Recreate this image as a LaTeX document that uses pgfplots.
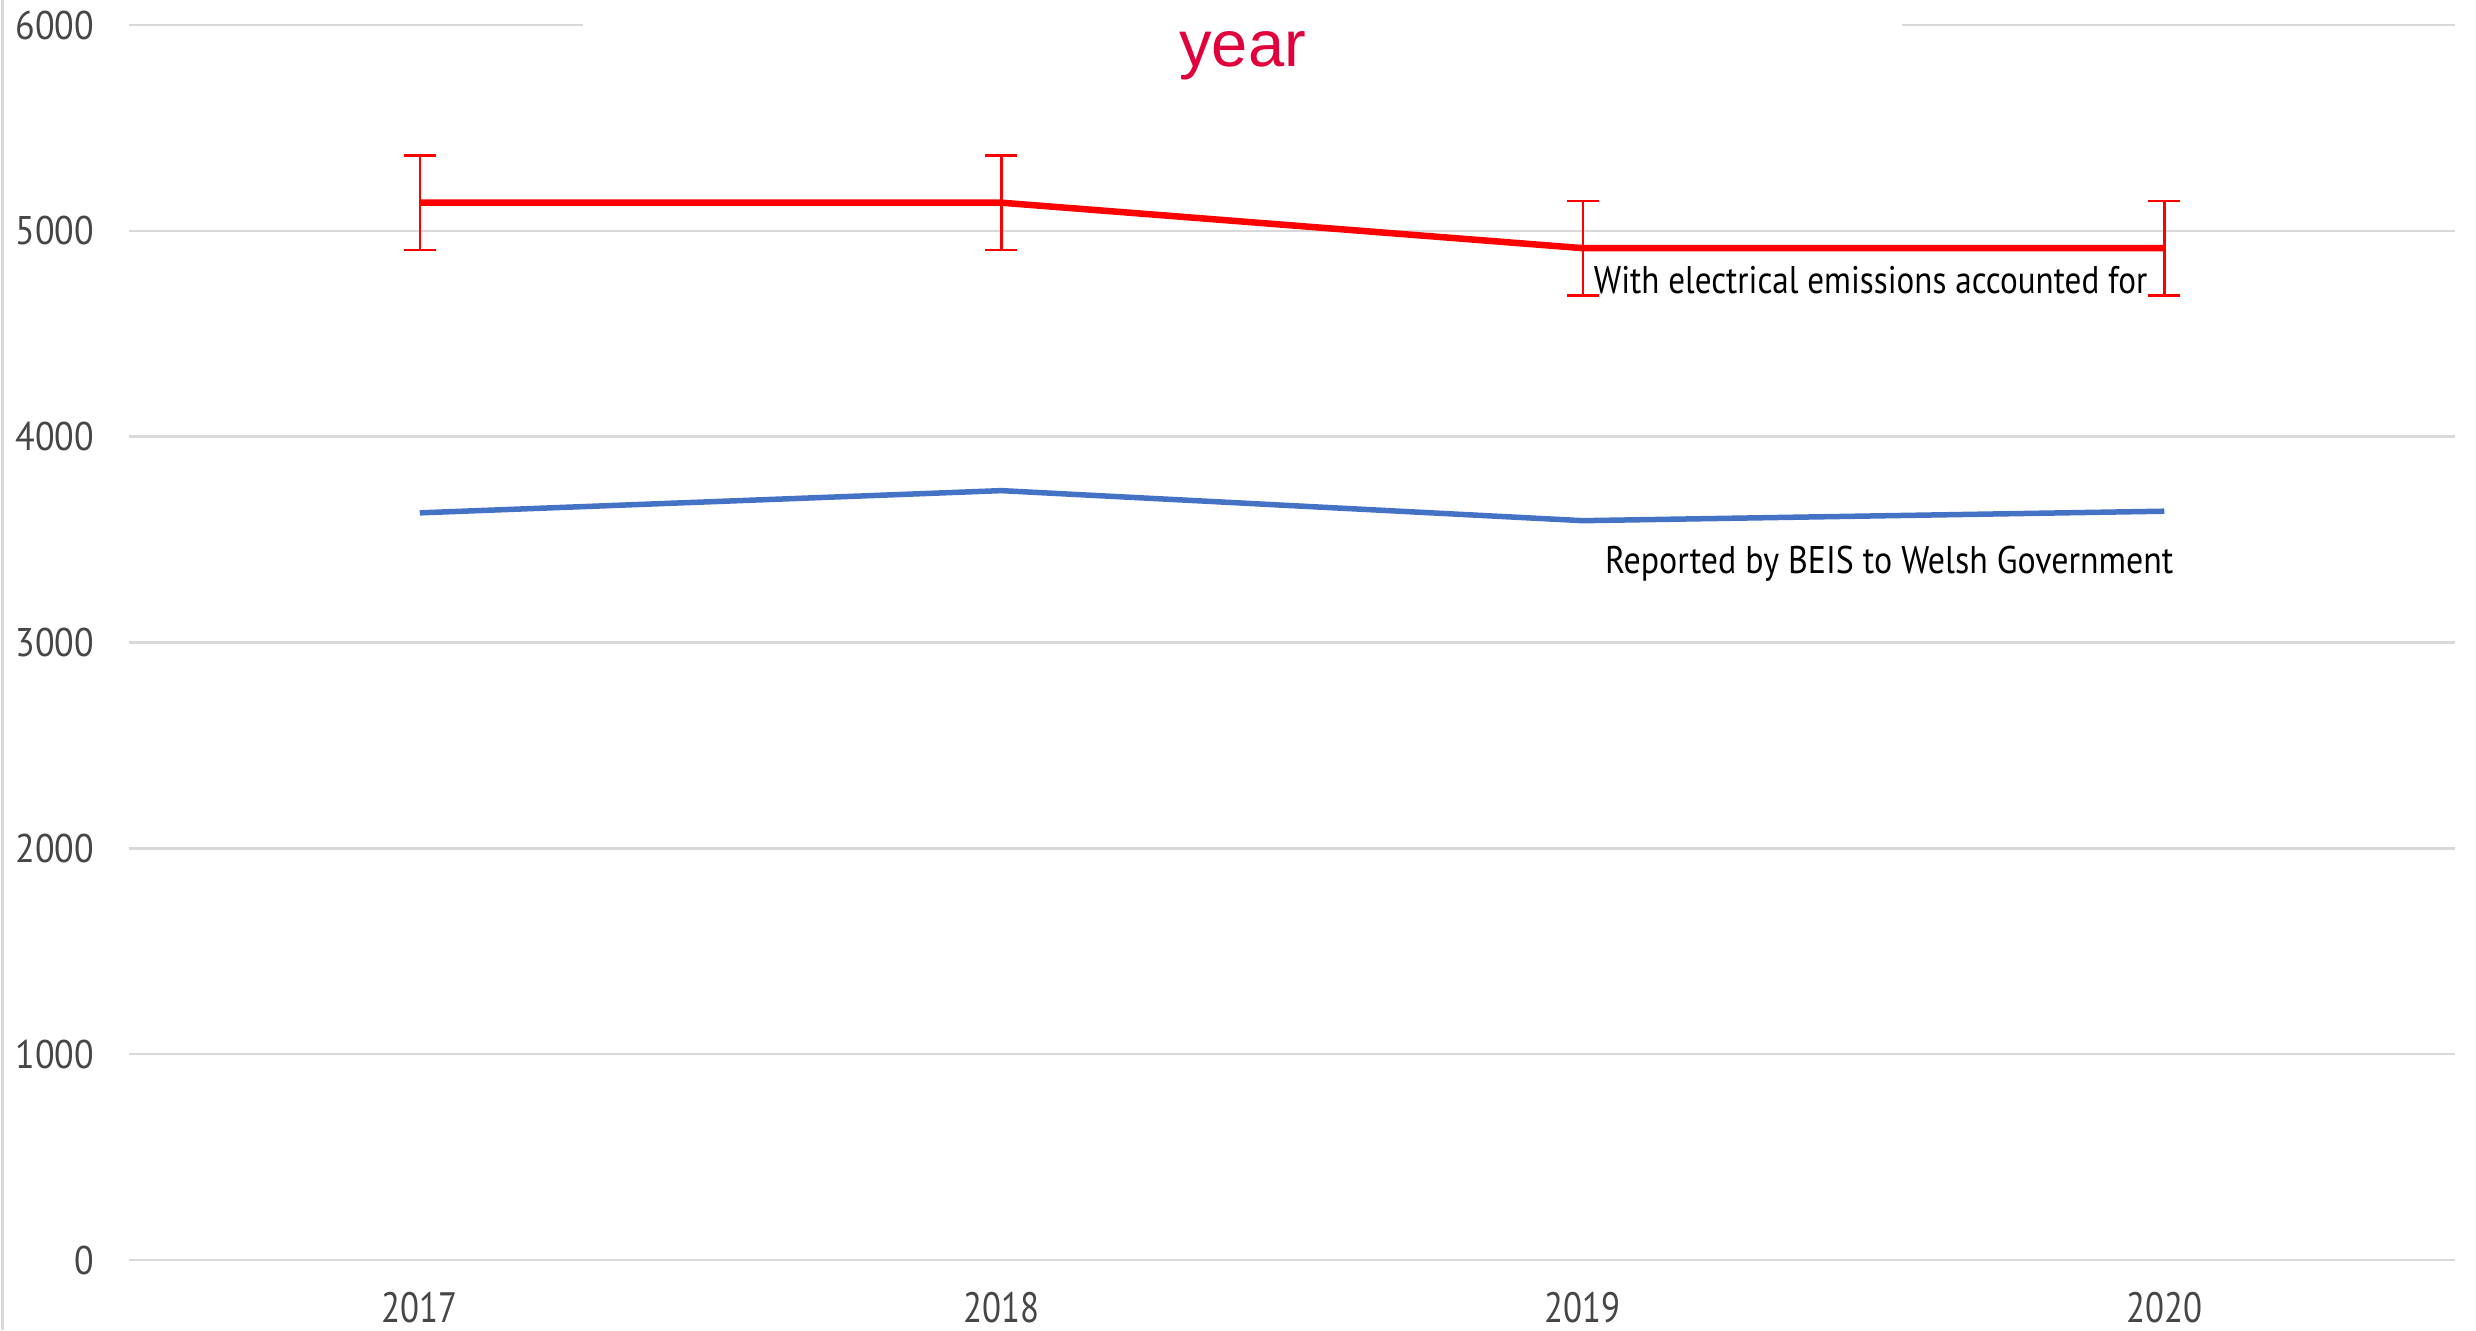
\documentclass[border=0pt]{standalone}
\usepackage{fontspec}
\setmainfont{PT Sans}
\newfontfamily\titlefont{Liberation Sans}
\usepackage{pgfplots}
\pgfplotsset{compat=1.18}
\definecolor{gridgray}{RGB}{217,217,217}
\definecolor{ticktext}{RGB}{70,70,70}
\definecolor{titlered}{RGB}{225,0,60}
\definecolor{blueline}{RGB}{68,114,196}
\begin{document}
\begin{tikzpicture}
\path[use as bounding box] (-25.8pt,-14pt) rectangle (469.4pt,252pt);
\draw[gridgray, line width=0.6pt] (-25.4pt,-14pt) -- (-25.4pt,252pt);
\begin{axis}[
  at={(0,0)}, anchor=south west,
  scale only axis, width=465.2pt, height=247pt,
  xmin=2016.5, xmax=2020.5, ymin=0, ymax=6000,
  xtick={2017,2018,2019,2020}, ytick={0,1000,2000,3000,4000,5000,6000},
  axis line style={draw=none}, major tick length=0pt,
  ymajorgrids, grid style={gridgray, line width=0.5pt},
  /pgf/number format/assume math mode=true,
  /pgf/number format/1000 sep={},
  xticklabel={\scalebox{0.82}[1]{\pgfmathprintnumber{\tick}}},
  yticklabel={\scalebox{0.9}[1]{\pgfmathprintnumber{\tick}}},
  xticklabel style={font=\fontsize{8.5}{10}\selectfont, text=ticktext, inner sep=0pt, anchor=north, yshift=-6.2pt},
  yticklabel style={font=\fontsize{8}{10}\selectfont, text=ticktext, inner sep=0pt, anchor=east, xshift=-6.8pt},
  clip=false,
]
\addplot[blueline, line width=1.1pt, no markers] coordinates {
  (2017,3630) (2018,3738) (2019,3592) (2020,3638)
};
\addplot[red, line width=1.3pt, no markers,
  error bars/.cd, y dir=both, y explicit,
  error bar style={line width=0.5pt, red},
  error mark options={rotate=90, red, mark size=3.2pt, line width=0.5pt}]
  coordinates {
  (2017,5137) +- (0,229)
  (2018,5137) +- (0,229)
  (2019,4916) +- (0,229)
  (2020,4916) +- (0,229)
};
\node[font=\titlefont\fontsize{13}{16}\selectfont, text=titlered, fill=white, inner sep=0pt,
  minimum width=263.8pt, text height=16pt, text depth=5pt, anchor=base]
  at (axis cs:2018.415,5800) {year};
\node[font=\fontsize{7.7}{9}\selectfont, inner sep=0pt, anchor=center]
  at (axis cs:2019.495,4760) {\scalebox{0.86}[1]{With electrical emissions accounted for}};
\node[font=\fontsize{7.7}{9}\selectfont, inner sep=0pt, anchor=center]
  at (axis cs:2019.527,3385) {\scalebox{0.88}[1]{Reported by BEIS to Welsh Government}};
\end{axis}
\end{tikzpicture}
\end{document}
